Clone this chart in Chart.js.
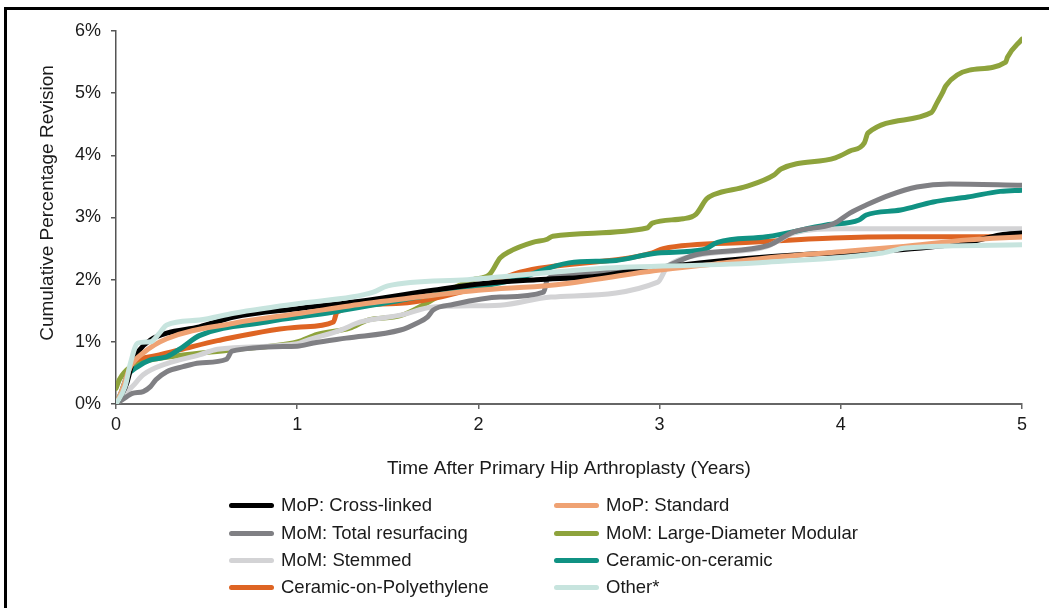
<!DOCTYPE html>
<html>
<head>
<meta charset="utf-8">
<script src="https://cdn.jsdelivr.net/npm/chart.js"></script>
<style>
  body { margin:0; width:1049px; height:608px; overflow:hidden; background:#fff; position:relative; font-family:"Liberation Sans", Arial, sans-serif; }
  #frame { position:absolute; left:4px; top:7px; width:1100px; height:700px; border-left:3px solid #000; border-top:3px solid #000; }
  #wrap { position:absolute; left:0; top:0; width:1049px; height:608px; }
  .item { position:absolute; display:flex; align-items:center; font-size:18.5px; color:#1a1a1a; white-space:nowrap; height:24px; }
  .sw { width:45px; height:5px; border-radius:3px; margin-right:7px; }
</style>
</head>
<body>
<div id="frame"></div>
<div id="wrap"><canvas id="chart"></canvas></div>
<div id="legend"></div>
<script>
// series names and colours
const names = ["MoP: Cross-linked", "MoP: Standard", "MoM: Total resurfacing", "MoM: Large-Diameter Modular",
               "MoM: Stemmed", "Ceramic-on-ceramic", "Ceramic-on-Polyethylene", "Other*"];
const colors = ["#000000", "#EFA273", "#808084", "#8EA33C", "#D3D3D5", "#109283", "#DE6423", "#C7E4DE"];

// years after surgery / cumulative revision (%), one pair per series
const crossT = [0, 0.03, 0.06, 0.09, 0.13, 0.19, 0.28, 0.46, 0.65, 1.02, 1.39, 1.75, 2.03, 2.32, 2.67, 2.88, 3.22, 3.77, 4.33, 4.7, 4.88, 5];
const crossV = [0, 0.15, 0.34, 0.66, 0.87, 1.03, 1.14, 1.24, 1.4, 1.54, 1.67, 1.83, 1.94, 2.0, 2.06, 2.15, 2.27, 2.4, 2.48, 2.6, 2.72, 2.75];

const stdT = [0, 0.03, 0.08, 0.15, 0.28, 0.65, 1.02, 1.39, 1.75, 2.0, 2.4, 2.99, 3.3, 3.63, 4.0, 4.33, 4.7, 5];
const stdV = [0, 0.2, 0.6, 0.82, 1.05, 1.3, 1.46, 1.62, 1.75, 1.83, 1.91, 2.15, 2.25, 2.36, 2.45, 2.53, 2.64, 2.69];

const resurfT = [0, 0.06, 0.09, 0.15, 0.19, 0.22, 0.28, 0.37, 0.46, 0.61, 0.64, 1.0, 1.09, 1.27, 1.57, 1.66, 1.72, 1.75, 1.86, 2.12, 2.36, 2.38, 2.43, 2.5, 3.0, 3.04, 3.2, 3.6, 3.74, 3.96, 4.05, 4.14, 4.27, 4.42, 4.6, 5];
const resurfV = [0, 0.12, 0.17, 0.2, 0.28, 0.39, 0.52, 0.6, 0.66, 0.72, 0.85, 0.93, 0.98, 1.06, 1.19, 1.3, 1.4, 1.51, 1.6, 1.72, 1.8, 2.0, 2.07, 2.1, 2.18, 2.22, 2.4, 2.55, 2.77, 2.9, 3.07, 3.2, 3.36, 3.49, 3.54, 3.52];

const largeT = [0, 0.02, 0.08, 0.15, 0.35, 0.63, 1.0, 1.11, 1.29, 1.39, 1.57, 1.7, 1.84, 1.97, 2.06, 2.12, 2.17, 2.3, 2.38, 2.41, 2.93, 2.96, 3.13, 3.2, 3.26, 3.3, 3.48, 3.63, 3.67, 3.97, 4.05, 4.13, 4.15, 4.5, 4.53, 4.56, 4.58, 4.71, 4.91, 4.92, 5];
const largeV = [0.25, 0.4, 0.6, 0.68, 0.78, 0.87, 1.0, 1.12, 1.22, 1.35, 1.42, 1.6, 1.83, 2.0, 2.08, 2.35, 2.45, 2.6, 2.65, 2.7, 2.83, 2.91, 2.98, 3.05, 3.3, 3.37, 3.5, 3.68, 3.78, 3.96, 4.07, 4.2, 4.36, 4.69, 4.84, 5.0, 5.12, 5.37, 5.5, 5.58, 5.87];

const stemT = [0, 0.04, 0.09, 0.15, 0.28, 0.46, 0.56, 1.0, 1.05, 1.24, 1.35, 1.57, 1.75, 2.12, 2.4, 2.99, 3.04, 3.1, 3.22, 3.59, 3.74, 4.0, 5];
const stemV = [0, 0.14, 0.28, 0.47, 0.65, 0.79, 0.88, 0.97, 1.02, 1.19, 1.32, 1.43, 1.56, 1.59, 1.72, 1.96, 2.2, 2.31, 2.4, 2.53, 2.75, 2.82, 2.82];

const cocT = [0, 0.03, 0.06, 0.12, 0.19, 0.28, 0.37, 0.46, 0.83, 1.2, 1.57, 1.94, 2.2, 2.5, 2.76, 2.99, 3.24, 3.32, 3.59, 3.92, 4.1, 4.14, 4.33, 4.51, 4.7, 4.88, 5];
const cocV = [0, 0.2, 0.44, 0.6, 0.71, 0.76, 0.92, 1.1, 1.32, 1.48, 1.67, 1.85, 2.0, 2.27, 2.31, 2.43, 2.48, 2.6, 2.69, 2.88, 2.96, 3.04, 3.12, 3.25, 3.33, 3.42, 3.44];

const copT = [0, 0.03, 0.06, 0.09, 0.19, 0.35, 0.56, 1.02, 1.2, 1.22, 1.57, 1.94, 2.08, 2.23, 2.96, 3.02, 3.5, 3.96, 4.33, 5];
const copV = [0, 0.17, 0.44, 0.66, 0.76, 0.87, 1.02, 1.24, 1.32, 1.48, 1.62, 1.83, 1.96, 2.12, 2.43, 2.5, 2.6, 2.67, 2.69, 2.69];

const otherT = [0, 0.05, 0.08, 0.12, 0.19, 0.24, 0.28, 0.46, 0.65, 1.02, 1.3, 1.42, 1.5, 1.94, 2.41, 2.67, 3.39, 3.59, 4.23, 4.36, 5];
const otherV = [0, 0.28, 0.66, 0.98, 1.0, 1.14, 1.27, 1.35, 1.46, 1.62, 1.72, 1.8, 1.9, 2.0, 2.12, 2.18, 2.25, 2.28, 2.43, 2.51, 2.56];

const xTicks = [0, 1, 2, 3, 4, 5];
const yTicks = [0, 1, 2, 3, 4, 5, 6];
const yTitle = "Cumulative Percentage Revision";

const seriesT = [crossT, stdT, resurfT, largeT, stemT, cocT, copT, otherT];
const seriesV = [crossV, stdV, resurfV, largeV, stemV, cocV, copV, otherV];
// lower order is drawn on top
const drawOrder = [3, 2, 4, 8, 6, 5, 7, 1];

const datasets = names.map((n, i) => ({
  label: n,
  data: seriesT[i].map((t, j) => ({ x: t, y: seriesV[i][j] })),
  borderColor: colors[i],
  borderWidth: 5,
  borderCapStyle: "round",
  borderJoinStyle: "round",
  pointRadius: 0,
  tension: 0.3,
  cubicInterpolationMode: "monotone",
  order: drawOrder[i]
}));

const tickFont = { family: "'Liberation Sans', Arial, sans-serif", size: 18 };
const titleFont = { family: "'Liberation Sans', Arial, sans-serif", size: 19 };

// y title sits a little above the plot centre in the original
const yTitlePlugin = {
  id: "yTitle",
  afterDraw(chart) {
    const c = chart.ctx;
    c.save();
    c.translate(48, 203);
    c.rotate(-Math.PI / 2);
    c.font = "19px 'Liberation Sans', Arial, sans-serif";
    c.fillStyle = "#1a1a1a";
    c.textAlign = "center";
    c.textBaseline = "middle";
    c.fillText(yTitle, 0, 0);
    c.restore();
  }
};

new Chart("chart", {
  type: "line",
  data: { datasets: datasets },
  plugins: [yTitlePlugin],
  options: {
    responsive: true,
    maintainAspectRatio: false,
    animation: false,
    layout: { padding: { left: 0, top: 31, right: 27, bottom: 124 } },
    plugins: { legend: { display: false }, tooltip: { enabled: false } },
    scales: {
      x: {
        type: "linear",
        min: 0, max: 5,
        afterBuildTicks: s => { s.ticks = xTicks.map(v => ({ value: v })); },
        afterFit: s => { s.height = 80; },
        ticks: { font: tickFont, color: "#1a1a1a", padding: 5 },
        grid: { drawOnChartArea: false, tickLength: 5, color: "#666", lineWidth: 1.5 },
        border: { color: "#666", width: 2 },
        title: { display: true, text: "Time After Primary Hip Arthroplasty (Years)", font: titleFont, color: "#1a1a1a", padding: { top: 0, bottom: 4 } }
      },
      y: {
        min: 0, max: 6,
        afterBuildTicks: s => { s.ticks = yTicks.map(v => ({ value: v })); },
        afterFit: s => { s.width = 116; },
        ticks: { font: tickFont, color: "#1a1a1a", padding: 10, callback: v => v + "%" },
        grid: { drawOnChartArea: false, tickLength: 5, color: "#555", lineWidth: 1.5 },
        border: { color: "#555", width: 1.5 }
      }
    }
  }
});

// two-column legend below the plot
const legend = document.getElementById("legend");
const colX = [229, 554];
const rowY = [505, 533, 560, 587];
names.forEach((n, i) => {
  const it = document.createElement("div");
  it.className = "item";
  it.style.left = colX[i % 2] + "px";
  it.style.top = (rowY[Math.floor(i / 2)] - 12) + "px";
  const sw = document.createElement("span");
  sw.className = "sw";
  sw.style.background = colors[i];
  it.appendChild(sw);
  it.appendChild(document.createTextNode(n));
  legend.appendChild(it);
});
</script>
</body>
</html>
